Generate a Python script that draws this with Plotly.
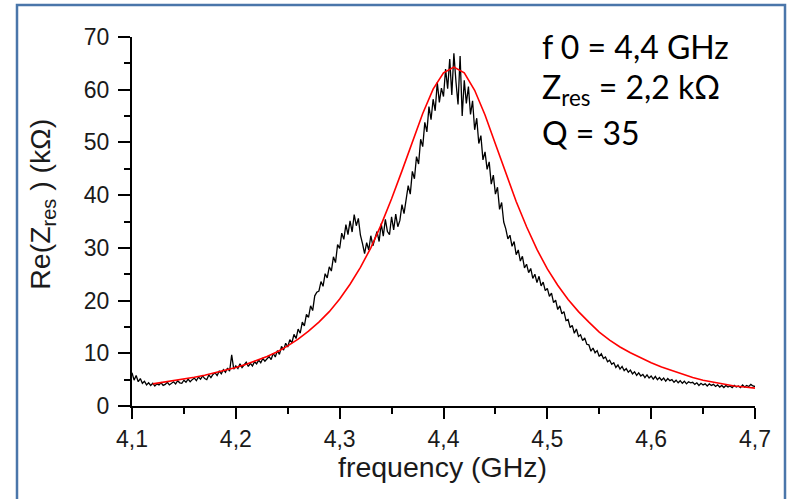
import numpy as np
import plotly.graph_objects as go

# measured trace: frequency grid (GHz) 4.100 .. 4.700 step 0.002
freq_meas = np.round(np.arange(4.100, 4.7001, 0.002), 3)
re_z_meas = [
    6.3, 4.9, 5.8, 4.6, 5.2, 4.3, 4.7, 4.0, 4.4, 3.9,
    4.3, 3.8, 4.2, 4.0, 4.4, 3.9, 4.1, 4.5, 4.0, 4.3,
    4.6, 4.2, 4.8, 4.4, 4.3, 4.9, 4.5, 5.1, 4.6, 5.0,
    5.3, 4.8, 5.5, 5.1, 5.7, 5.2, 5.0, 5.9, 5.4, 6.0,
    6.3, 5.8, 6.6, 6.1, 6.9, 6.4, 7.2, 6.6, 9.7, 7.0,
    7.6, 7.1, 8.0, 7.3, 7.8, 8.3, 7.5, 8.1, 7.6, 8.4,
    8.0, 8.7, 8.2, 9.0, 8.5, 8.9, 9.4, 8.8, 10.0, 9.3,
    10.5, 9.8, 11.3, 10.6, 11.9, 11.2, 12.6, 12.0, 13.6, 12.8,
    14.6, 13.8, 15.9, 15.2, 17.4, 16.8, 19.0, 18.1, 20.9, 21.6,
    21.8, 23.6, 22.7, 25.1, 24.3, 26.4, 25.6, 28.3, 27.2, 30.6,
    29.9, 32.8, 31.6, 34.4, 32.5, 35.1, 33.0, 36.3, 34.2, 35.6,
    32.4, 30.8, 28.9, 31.0, 29.6, 32.3, 30.4, 31.8, 33.1, 31.2,
    34.6, 32.2, 35.4, 33.1, 32.5, 35.9, 33.4, 36.4, 34.0, 35.2,
    38.2, 36.5, 39.6, 41.8, 40.2, 44.5, 43.1, 47.3, 45.9, 50.6,
    49.2, 53.8, 52.0, 56.8, 54.3, 58.2, 56.0, 61.4, 57.6, 60.3,
    58.7, 63.9, 60.2, 65.8, 59.0, 66.9, 61.5, 57.2, 66.4, 55.0,
    61.8, 57.4, 60.6, 55.3, 57.9, 52.4, 54.6, 49.8, 51.3, 46.7,
    48.2, 44.9, 46.3, 42.1, 43.8, 40.2, 41.5, 37.3, 38.6, 34.9,
    33.6, 31.7, 32.4, 30.3, 31.2, 28.7, 29.6, 27.5, 28.4, 26.2,
    26.9, 25.3, 26.1, 24.2, 25.0, 23.4, 24.6, 22.8, 23.5, 21.9,
    22.3, 20.8, 21.4, 19.6, 20.1, 18.3, 19.0, 17.5, 17.9, 16.2,
    16.4, 14.9, 15.3, 13.8, 14.6, 13.2, 13.5, 12.4, 12.9, 11.7,
    11.6, 10.4, 11.0, 10.1, 10.5, 9.4, 9.9, 9.0, 9.3, 8.4,
    8.7, 7.9, 8.2, 7.3, 7.8, 7.0, 7.5, 6.7, 7.1, 6.4,
    6.8, 6.1, 6.5, 5.8, 6.3, 5.7, 6.0, 5.4, 5.9, 5.3,
    5.7, 5.1, 5.6, 5.0, 5.4, 4.9, 5.3, 4.7, 5.2, 4.8,
    5.0, 4.5, 4.9, 4.4, 4.8, 4.3, 4.7, 4.2, 4.6, 4.4,
    4.5, 4.1, 4.4, 3.9, 4.3, 4.0, 4.2, 3.8, 4.2, 3.9,
    4.1, 3.7, 4.0, 3.6, 3.9, 3.5, 3.9, 3.6, 3.8, 3.5,
    3.9, 3.6, 3.8, 3.5, 4.0, 3.6, 3.9, 3.7, 4.1, 3.8,
    3.7,
]

# fitted curve: frequency grid 4.12 .. 4.70 step 0.01
freq_fit = np.round(np.arange(4.12, 4.7001, 0.01), 2)
re_z_fit = [
    4.2, 4.5, 4.8, 5.1, 5.45, 5.85, 6.3, 6.8, 7.3, 7.9,
    8.6, 9.4, 10.3, 11.4, 12.7, 14.2, 15.9, 17.9, 20.3, 23.1,
    26.3, 30.0, 34.4, 39.3, 44.6, 50.1, 55.5, 60.1, 63.2, 64.3,
    63.2, 59.9, 55.2, 49.7, 44.1, 38.8, 34.0, 29.7, 26.0, 22.9,
    20.2, 17.9, 15.9, 14.0, 12.5, 11.2, 10.1, 9.1, 8.2, 7.4,
    6.7, 6.0, 5.4, 4.9, 4.5, 4.1, 3.8, 3.6, 3.4,
]

x_ticks = [4.1, 4.2, 4.3, 4.4, 4.5, 4.6, 4.7]
y_ticks = [0, 10, 20, 30, 40, 50, 60, 70]
fit_text = ["f 0 = 4,4 GHz", "Z<sub>res</sub> = 2,2 kΩ", "Q = 35"]

fig = go.Figure()
fig.add_trace(go.Scatter(x=freq_meas, y=re_z_meas, mode="lines",
                         line=dict(color="black", width=1.3), showlegend=False))
fig.add_trace(go.Scatter(x=freq_fit, y=re_z_fit, mode="lines",
                         line=dict(color="#ff0000", width=1.6), showlegend=False))

axis_font = dict(family="Liberation Sans", size=23, color="#1a1a1a")
fig.update_xaxes(range=[4.1, 4.7], tickvals=x_ticks, tickformat=".1f",
                 showline=True, linecolor="black", linewidth=2,
                 ticks="outside", ticklen=11, tickwidth=2, tickcolor="black",
                 tickfont=axis_font, showgrid=False, zeroline=False,
                 minor=dict(dtick=0.05, ticks="outside", ticklen=6, tickwidth=2,
                            tickcolor="black", showgrid=False))
fig.update_yaxes(range=[0, 70], tickvals=y_ticks,
                 showline=True, linecolor="black", linewidth=2,
                 ticks="outside", ticklen=12, tickwidth=2, tickcolor="black",
                 ticklabelstandoff=4,
                 tickfont=axis_font, showgrid=False, zeroline=False,
                 minor=dict(dtick=5, ticks="outside", ticklen=6, tickwidth=2,
                            tickcolor="black", showgrid=False))

title_font = dict(family="Liberation Sans", size=28.5, color="#1a1a1a")
ann = [
    dict(text="frequency (GHz)", xref="paper", yref="paper", x=0.499, y=-0.165,
         xanchor="center", yanchor="middle", showarrow=False, font=title_font),
    dict(text="Re(Z<sub>res</sub> ) (kΩ)", xref="paper", yref="paper", x=-0.1445, y=0.548,
         xanchor="center", yanchor="middle", textangle=-90, showarrow=False, font=title_font),
]
label_font = dict(family="Lato", size=32, color="black")
for txt, yy in zip(fit_text, [0.975, 0.858, 0.742]):
    ann.append(dict(text=txt, xref="paper", yref="paper", x=(540 - 132) / 623, y=yy,
                    xanchor="left", yanchor="middle", showarrow=False, font=label_font))

fig.update_layout(
    width=787, height=499,
    margin=dict(l=132, r=32, t=37, b=93),
    paper_bgcolor="white", plot_bgcolor="white",
    separators=", ",
    annotations=ann,
    shapes=[dict(type="rect", xref="paper", yref="paper",
                 x0=(17 - 132) / 623, x1=(785 - 132) / 623,
                 y0=(406 - 510) / 369, y1=(406 - 5) / 369,
                 line=dict(color="#4a76aa", width=2.5), layer="below")],
)

fig.write_html("out.html", config={"displayModeBar": False},
               post_script="document.body.style.margin='0px';")
